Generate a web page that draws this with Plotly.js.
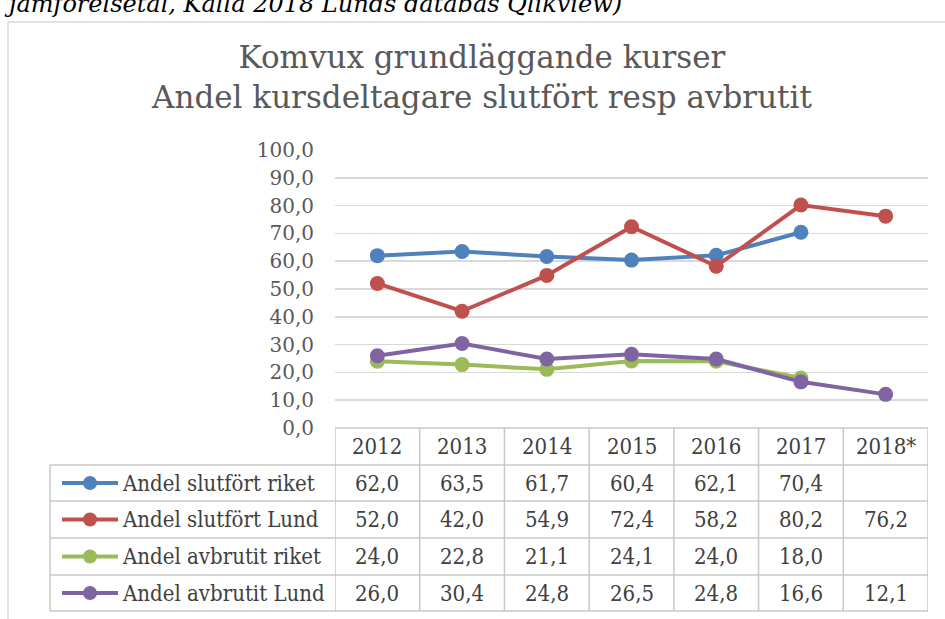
<!DOCTYPE html>
<html>
<head>
<meta charset="utf-8">
<script src="https://cdn.plot.ly/plotly-3.0.1.min.js"></script>
<style>
  body { margin: 0; background: #fff; }
  #plot { width: 945px; height: 619px; }
</style>
</head>
<body>
<div id="plot"></div>
<script>
// Komvux grundläggande kurser - values from the data table
const years = ['2012', '2013', '2014', '2015', '2016', '2017', '2018*'];
const seriesNames = ['Andel slutfört riket', 'Andel slutfört Lund', 'Andel avbrutit riket', 'Andel avbrutit Lund'];
const slutfortRiket = [62.0, 63.5, 61.7, 60.4, 62.1, 70.4, null];
const slutfortLund = [52.0, 42.0, 54.9, 72.4, 58.2, 80.2, 76.2];
const avbrutitRiket = [24.0, 22.8, 21.1, 24.1, 24.0, 18.0, null];
const avbrutitLund = [26.0, 30.4, 24.8, 26.5, 24.8, 16.6, 12.1];
const colors = ['#4f81bd', '#c0504d', '#9bbb59', '#8064a2'];

const allSeries = [slutfortRiket, slutfortLund, avbrutitRiket, avbrutitLund];

// plot area in pixels: x 335..928, y 150..428
const plotTop = 150, plotBottom = 428, plotLeft = 335, plotRight = 928;
const ph = plotBottom - plotTop, pw = plotRight - plotLeft;
const py = p => (plotBottom - p) / ph;
const px = p => (p - plotLeft) / pw;

const serif = 'DejaVu Serif, Liberation Serif, serif';
const serifCond = 'DejaVu Serif Condensed, DejaVu Serif, serif';
const gridCol = '#d9d9d9';
const tableCol = '#c8c8c8';

const traces = allSeries.map((vals, i) => ({
  x: years,
  y: vals,
  name: seriesNames[i],
  type: 'scatter',
  mode: 'lines+markers',
  line: { color: colors[i], width: 4 },
  marker: { color: colors[i], size: 15 },
  connectgaps: false,
  hoverinfo: 'skip'
}));

const rowEdges = [428, 465, 501, 538, 575, 611];
const shapes = [];
const annotations = [];

// outer chart border (top and left)
shapes.push({ type: 'line', xref: 'paper', yref: 'paper', x0: px(8), x1: px(960), y0: py(22), y1: py(22), line: { color: gridCol, width: 1.5 } });
shapes.push({ type: 'line', xref: 'paper', yref: 'paper', x0: px(8), x1: px(8), y0: py(22), y1: py(640), line: { color: gridCol, width: 1.5 } });

// table horizontal lines
shapes.push({ type: 'line', xref: 'paper', yref: 'paper', x0: 0, x1: 1, y0: py(rowEdges[0]), y1: py(rowEdges[0]), line: { color: tableCol, width: 1.5 } });
for (let r = 1; r < rowEdges.length; r++) {
  shapes.push({ type: 'line', xref: 'paper', yref: 'paper', x0: px(50), x1: 1, y0: py(rowEdges[r]), y1: py(rowEdges[r]), line: { color: tableCol, width: 1.5 } });
}
// table vertical lines
shapes.push({ type: 'line', xref: 'paper', yref: 'paper', x0: px(50), x1: px(50), y0: py(rowEdges[1]), y1: py(rowEdges[5]), line: { color: tableCol, width: 1.5 } });
for (let c = 0; c <= years.length; c++) {
  shapes.push({ type: 'line', xref: 'x', yref: 'paper', x0: c - 0.5, x1: c - 0.5, y0: py(rowEdges[0]), y1: py(rowEdges[5]), line: { color: tableCol, width: 1.5 } });
}

const cellFont = { family: serifCond, size: 22, color: '#404040' };

// header row
years.forEach((yr, j) => {
  annotations.push({ x: j, xref: 'x', y: py((rowEdges[0] + rowEdges[1]) / 2), yref: 'paper', text: yr, showarrow: false, font: cellFont, xanchor: 'center', yanchor: 'middle' });
});

// data rows with legend keys
allSeries.forEach((vals, i) => {
  const yc = py((rowEdges[i + 1] + rowEdges[i + 2]) / 2);
  shapes.push({ type: 'line', xref: 'paper', yref: 'paper', x0: px(62), x1: px(118), y0: yc, y1: yc, line: { color: colors[i], width: 4 } });
  shapes.push({ type: 'circle', xref: 'paper', yref: 'paper', x0: px(83), x1: px(97), y0: yc - 7 / ph, y1: yc + 7 / ph, fillcolor: colors[i], line: { color: colors[i], width: 0 } });
  annotations.push({ x: px(120), xref: 'paper', y: yc, yref: 'paper', text: seriesNames[i], showarrow: false, font: cellFont, xanchor: 'left', yanchor: 'middle' });
  vals.forEach((v, j) => {
    if (v === null) return;
    annotations.push({ x: j, xref: 'x', y: yc, yref: 'paper', text: v.toFixed(1).replace('.', ','), showarrow: false, font: cellFont, xanchor: 'center', yanchor: 'middle' });
  });
});

// source line cut off at the top
annotations.push({ x: px(2), xref: 'paper', y: py(20), yref: 'paper', text: '<i>jämförelsetal, Källa 2018 Lunds databas Qlikview)</i>', showarrow: false, font: { family: serif, size: 24, color: '#000' }, xanchor: 'left', yanchor: 'bottom' });

const layout = {
  width: 945,
  height: 619,
  margin: { l: plotLeft, r: 945 - plotRight, t: plotTop, b: 619 - plotBottom },
  paper_bgcolor: '#fff',
  plot_bgcolor: '#fff',
  separators: ', ',
  showlegend: false,
  title: {
    text: 'Komvux grundläggande kurser<br>Andel kursdeltagare slutfört resp avbrutit',
    font: { family: serif, size: 31, color: '#595959' },
    x: 482 / 945, xref: 'container', xanchor: 'center',
    y: 1 - 68 / 619, yref: 'container', yanchor: 'top'
  },
  xaxis: {
    type: 'category',
    range: [-0.5, 6.5],
    showticklabels: false,
    showgrid: false,
    zeroline: false,
    showline: false,
    fixedrange: true
  },
  yaxis: {
    range: [0, 100],
    dtick: 10,
    tickformat: '.1f',
    showgrid: true,
    gridcolor: gridCol,
    gridwidth: 1.5,
    zeroline: false,
    showline: false,
    ticks: '',
    ticklabelstandoff: 20,
    tickfont: { family: serif, size: 20, color: '#595959' },
    fixedrange: true
  },
  shapes: shapes,
  annotations: annotations
};

Plotly.newPlot('plot', traces, layout, { displayModeBar: false, staticPlot: true });
</script>
</body>
</html>
